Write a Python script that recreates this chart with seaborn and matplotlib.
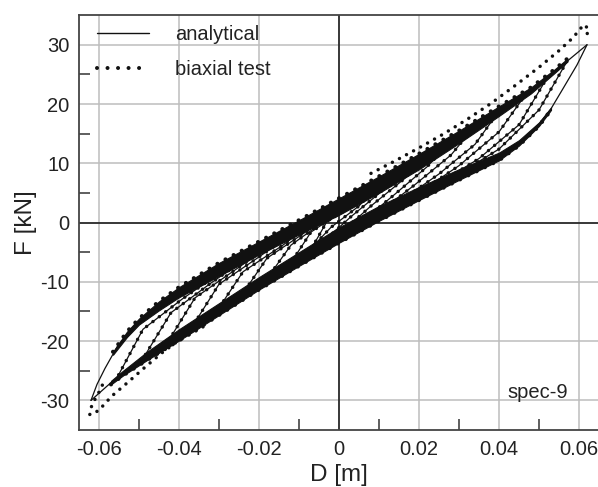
import numpy as np
import pandas as pd
import matplotlib
matplotlib.use("Agg")
import matplotlib.pyplot as plt
from matplotlib.lines import Line2D
import seaborn as sns

# ---------------- data ----------------
# analytical outer loop: upper branch (unloading, right -> left)
UB_D = [0.062, 0.057, 0.052, 0.046, 0.040, 0.030, 0.020, 0.010, 0.000, -0.010,
        -0.020, -0.030, -0.040, -0.048, -0.052, -0.0555, -0.0585, -0.0605, -0.062]
UB_F = [30.0, 27.2, 24.4, 21.0, 18.8, 14.6, 10.4, 6.5, 2.8, -1.0,
        -4.6, -8.3, -11.8, -15.5, -18.0, -21.0, -24.6, -27.3, -30.0]
# analytical outer loop: lower branch (loading, left -> right)
LB_D = [-0.062, -0.057, -0.052, -0.046, -0.040, -0.030, -0.020, -0.010, 0.000,
        0.010, 0.020, 0.030, 0.040, 0.046, 0.050, 0.053, 0.056, 0.0595, 0.062]
LB_F = [-30.0, -27.0, -24.4, -21.5, -19.2, -15.0, -10.8, -6.5, -2.4,
        1.3, 4.9, 8.0, 11.0, 13.9, 16.6, 19.2, 22.6, 26.6, 30.0]

# inner loops, loading branches leaving the lower band towards their peaks
FAN_R_D = [[0.028, 0.040, 0.050, 0.057],
           [0.024, 0.035, 0.045, 0.052],
           [0.019, 0.030, 0.040, 0.046],
           [0.014, 0.025, 0.034, 0.040],
           [0.009, 0.019, 0.028, 0.034],
           [0.004, 0.014, 0.022, 0.028],
           [-0.001, 0.008, 0.016, 0.022],
           [-0.006, 0.003, 0.010, 0.016],
           [-0.010, -0.002, 0.005, 0.010]]
FAN_R_F = [[7.4, 12.4, 19.0, 27.2],
           [6.2, 10.8, 16.5, 24.4],
           [4.6, 9.6, 15.3, 21.0],
           [3.0, 8.2, 13.2, 18.8],
           [1.2, 6.4, 11.4, 16.3],
           [-0.8, 4.8, 9.4, 13.8],
           [-2.6, 2.8, 7.2, 11.2],
           [-4.5, 1.0, 4.9, 8.8],
           [-6.5, -0.8, 2.8, 6.5]]
# inner loops, unloading branches leaving the upper band towards their troughs
FAN_L_D = [[-0.027, -0.039, -0.049, -0.0555],
           [-0.021, -0.032, -0.042, -0.049],
           [-0.015, -0.026, -0.036, -0.043],
           [-0.010, -0.020, -0.030, -0.037],
           [-0.005, -0.014, -0.024, -0.031],
           [0.000, -0.009, -0.018, -0.025],
           [0.005, -0.004, -0.012, -0.019],
           [0.009, 0.001, -0.007, -0.013],
           [0.012, 0.005, -0.003, -0.008]]
FAN_L_F = [[-7.2, -12.8, -18.0, -26.2],
           [-5.0, -10.2, -15.2, -22.95],
           [-2.8, -8.0, -12.7, -20.35],
           [-1.0, -5.8, -10.4, -17.9],
           [0.9, -3.8, -8.3, -15.4],
           [2.8, -1.9, -6.0, -12.9],
           [4.65, 0.1, -3.8, -10.4],
           [6.1, 2.0, -1.6, -7.8],
           [7.3, 3.5, 0.2, -5.7]]

# dense bands of overlapping test cycles (edges)
UBAND_D = [-0.0565, -0.053, -0.050, -0.045, -0.040, -0.030, -0.020, -0.010, 0.000,
           0.010, 0.020, 0.030, 0.040, 0.048, 0.054, 0.057]
UBAND_TOP = [-21.8, -18.4, -16.2, -13.3, -10.9, -6.8, -3.2, 0.4, 4.1,
             7.8, 11.6, 15.5, 19.6, 22.8, 25.9, 27.6]
UBAND_BOT = [-22.3, -19.3, -17.2, -14.8, -12.6, -9.0, -5.4, -2.0, 1.3,
             5.0, 9.0, 13.4, 18.0, 21.8, 25.3, 27.1]
LBAND_D = [-0.057, -0.054, -0.048, -0.040, -0.030, -0.020, -0.010, 0.000, 0.010,
           0.020, 0.030, 0.040, 0.045, 0.050, 0.053]
LBAND_TOP = [-26.7, -25.0, -21.8, -18.0, -13.6, -9.2, -5.0, -0.8, 2.8,
             6.0, 9.0, 11.8, 13.9, 16.9, 19.4]
LBAND_BOT = [-27.3, -25.8, -23.2, -19.9, -15.6, -11.3, -7.3, -3.4, 0.3,
             3.8, 7.2, 10.5, 13.0, 16.3, 19.0]

# biaxial test: outermost excursions
TU_D = [0.008, 0.014, 0.020, 0.026, 0.032, 0.038, 0.044, 0.050, 0.055, 0.0585, 0.0612, 0.0625, 0.0615]
TU_F = [8.3, 10.4, 12.6, 14.9, 17.4, 20.1, 23.1, 26.2, 29.0, 31.2, 33.4, 32.6, 31.0]
TL_D = [-0.034, -0.0405, -0.0443, -0.0485, -0.0527, -0.0565, -0.0585, -0.0600, -0.0623, -0.0618, -0.0600, -0.0585]
TL_F = [-17.6, -20.1, -22.0, -24.4, -26.9, -29.1, -30.5, -31.7, -32.4, -30.8, -28.6, -26.5]

X_TICKS = [-0.06, -0.04, -0.02, 0.0, 0.02, 0.04, 0.06]
X_LABELS = ["-0.06", "-0.04", "-0.02", "0", "0.02", "0.04", "0.06"]
X_MINOR = [-0.05, -0.03, -0.01, 0.01, 0.03, 0.05]
Y_TICKS = [-30, -20, -10, 0, 10, 20, 30]
Y_LABELS = ["-30", "-20", "-10", "0", "10", "20", "30"]
Y_MINOR = [-25, -15, -5, 5, 15, 25]

# ---------------- build long-form tables ----------------
rows = []
def add(name, ds, fs):
    for i, (d, f) in enumerate(zip(ds, fs)):
        rows.append({"curve": name, "order": i, "D": d, "F": f})

add("outer_up", UB_D, UB_F)
add("outer_lo", LB_D, LB_F)
for k, (ds, fs) in enumerate(zip(FAN_R_D, FAN_R_F)):
    add(f"r{k}", ds, fs)
for k, (ds, fs) in enumerate(zip(FAN_L_D, FAN_L_F)):
    add(f"l{k}", ds, fs)
ana = pd.DataFrame(rows)

rows = []
add("t_up", TU_D, TU_F)
add("t_lo", TL_D, TL_F)
for k, (ds, fs) in enumerate(zip(FAN_R_D, FAN_R_F)):
    add(f"tr{k}", ds, fs)
for k, (ds, fs) in enumerate(zip(FAN_L_D, FAN_L_F)):
    add(f"tl{k}", ds, fs)
test = pd.DataFrame(rows)

rows = []
add("ub_top", UBAND_D, UBAND_TOP)
add("lb_bot", LBAND_D, LBAND_BOT)
edges = pd.DataFrame(rows)

# ---------------- figure ----------------
sns.set_theme(style="white")
plt.rcParams["font.family"] = ["Liberation Sans", "DejaVu Sans"]
TXT = "#222222"

fig = plt.figure(figsize=(5.98, 4.87), dpi=100)
ax = fig.add_axes([0.1321, 0.117, 0.8696, 0.852])

ax.set_xlim(-0.065, 0.065)
ax.set_ylim(-35, 35)

ax.set_xticks(X_TICKS)
ax.set_xticklabels(X_LABELS)
ax.set_yticks(Y_TICKS)
ax.set_yticklabels(Y_LABELS)
ax.set_xticks(X_MINOR, minor=True)
ax.set_yticks(Y_MINOR, minor=True)
ax.grid(True, which="major", color="#bdbdbd", lw=1.1, zorder=0)
ax.set_axisbelow(True)
ax.axvline(0, color="#111111", lw=1.1, zorder=1)
ax.axhline(0, color="#111111", lw=1.1, zorder=1)

ax.tick_params(which="major", length=0, pad=7, labelsize=14.5, labelcolor=TXT)
ax.tick_params(which="minor", direction="in", length=8, width=1.1, color="#333333",
               left=True, bottom=True)
for s in ["top", "left", "bottom"]:
    ax.spines[s].set_color("#444444")
    ax.spines[s].set_linewidth(1.3)
ax.spines["right"].set_visible(False)

# dense bands
ax.fill_between(UBAND_D, UBAND_BOT, UBAND_TOP, color="#111111", lw=0.8, zorder=3)
ax.fill_between(LBAND_D, LBAND_BOT, LBAND_TOP, color="#111111", lw=0.8, zorder=3)

sns.lineplot(data=edges, x="D", y="F", units="curve", estimator=None, sort=False,
             color="#111111", lw=3.0, linestyle=(0, (0.01, 2.2)), dash_capstyle="round",
             ax=ax, zorder=3, legend=False)

# analytical
sns.lineplot(data=ana, x="D", y="F", units="curve", estimator=None, sort=False,
             color="#111111", lw=0.9, ax=ax, zorder=4, legend=False)
# test
sns.lineplot(data=test, x="D", y="F", units="curve", estimator=None, sort=False,
             color="#111111", lw=2.5, linestyle=(0, (0.01, 2.3)), dash_capstyle="round",
             ax=ax, zorder=4, legend=False)

ax.text(0.0498, -28.7, "spec-9", fontsize=14.5, color=TXT, ha="center", va="center")

ax.set_xlabel("D [m]", fontsize=17.5, color=TXT, labelpad=4)
ax.set_ylabel("F [kN]", fontsize=17.5, color=TXT, labelpad=2)

handles = [Line2D([], [], color="#111111", lw=1.0),
           Line2D([], [], color="#111111", lw=2.9, linestyle=(0, (0.01, 2.6)),
                  dash_capstyle="round")]
ax.legend(handles, ["analytical", "biaxial test"], loc="upper left",
          bbox_to_anchor=(0.034, 0.975), frameon=False, fontsize=14.5,
          handlelength=2.6, handletextpad=1.3, labelspacing=0.75,
          borderpad=0, borderaxespad=0, labelcolor=TXT)

fig.savefig("out.png", dpi=100)
